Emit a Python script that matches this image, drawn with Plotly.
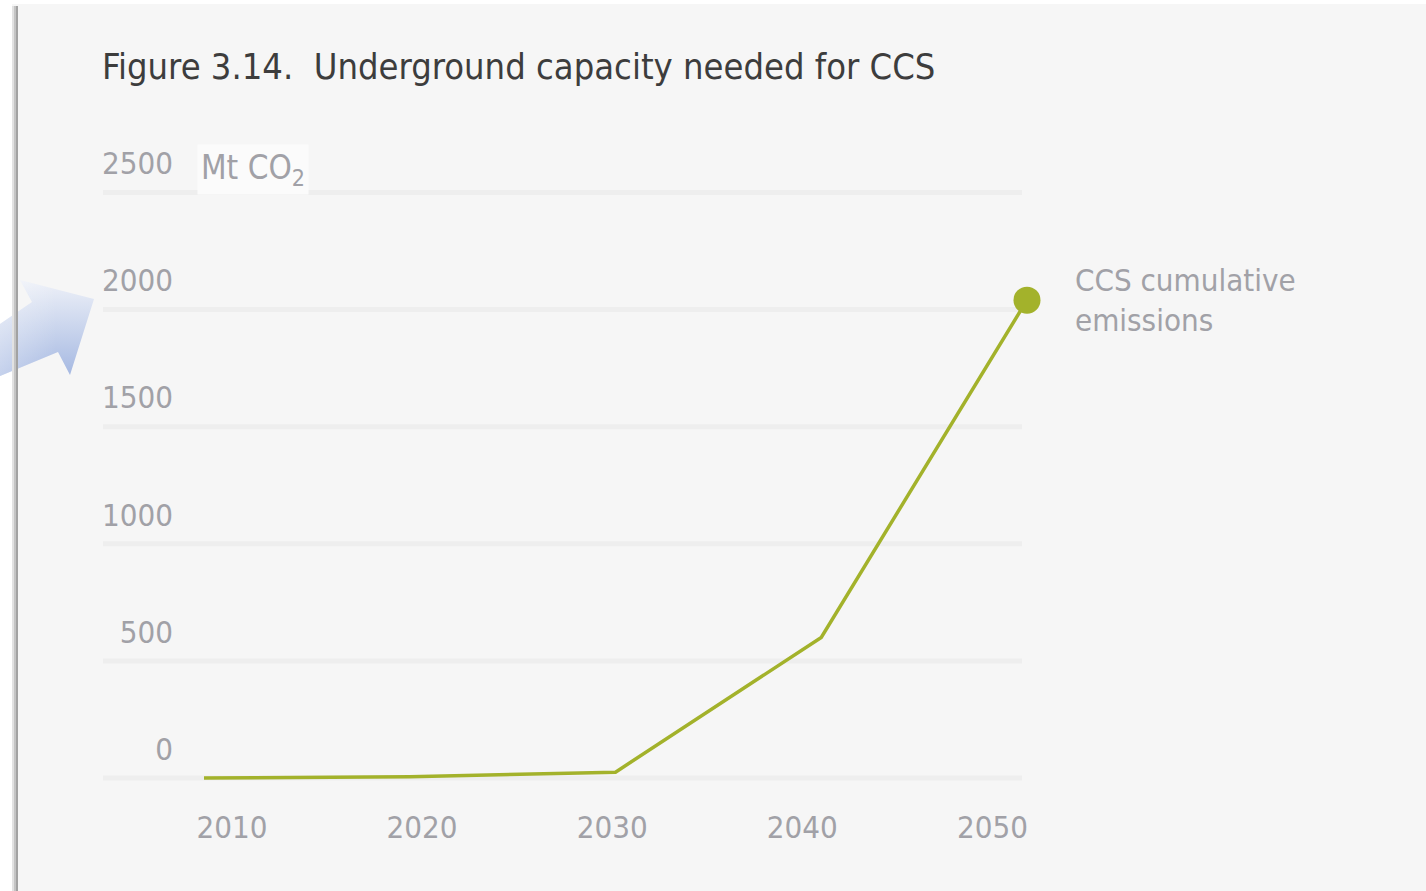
import plotly.graph_objects as go

# ---------------- data ----------------
years = [2010, 2020, 2030, 2040, 2050]
ccs_cumulative = [0, 5, 25, 600, 2040]          # Mt CO2
y_ticks = [0, 500, 1000, 1500, 2000, 2500]
x_tick_labels = ["2010", "2020", "2030", "2040", "2050"]
series_name = "CCS cumulative<br>emissions"
title_text = "Figure 3.14.\u00a0 Underground capacity needed for CCS"
unit_text = "Mt CO<sub>2</sub>"

# ---------------- layout constants ----------------
W, H = 1426, 891
FONT = "DejaVu Sans Condensed, Liberation Sans Narrow, sans-serif"
BG = "#f6f6f6"
LINE_COLOR = "#a3b22b"
TICK_COLOR = "#a1a1a7"

# plot area in pixels
PL, PR, PT, PB = 178, 1045, 150, 800
# axis calibration (pixel positions of reference values)
X_PX_2010, X_PX_PER_YEAR = 204, 20.575
Y_PX_0, Y_PX_PER_UNIT = 778, 468.5 / 2000

x_range = [2010 + (PL - X_PX_2010) / X_PX_PER_YEAR, 2010 + (PR - X_PX_2010) / X_PX_PER_YEAR]
y_range = [-(PB - Y_PX_0) / Y_PX_PER_UNIT, (Y_PX_0 - PT) / Y_PX_PER_UNIT]

# year labels in the original are spaced a bit tighter than the data scale
LABEL_START, LABEL_STEP = 2011.36, 9.24
x_tickvals = [LABEL_START + i * LABEL_STEP for i in range(len(x_tick_labels))]


def px(x):
    return x / W


def py(y):
    return 1 - y / H


fig = go.Figure()

# decorative arrow (second, hidden subplot in pixel units)
arrow_x = [0, 32, 20, 94, 70, 58, 0, 0]
arrow_y = [H - v for v in [324, 302, 280, 299, 375, 352, 376, 324]]
fig.add_trace(go.Scatter(
    x=arrow_x, y=arrow_y, xaxis="x2", yaxis="y2", mode="lines",
    line=dict(width=0), fill="toself", hoverinfo="skip",
    fillgradient=dict(type="vertical", start=H - 280, stop=H - 375,
                      colorscale=[[0, "#eef1f8"], [1, "#a6b9e2"]]),
))
fig.add_trace(go.Scatter(
    x=arrow_x, y=arrow_y, xaxis="x2", yaxis="y2", mode="lines",
    line=dict(width=0), fill="toself", hoverinfo="skip",
    fillgradient=dict(type="horizontal", start=0, stop=94,
                      colorscale=[[0, "rgba(255,255,255,0.35)"], [0.6, "rgba(255,255,255,0)"],
                                  [1, "rgba(255,255,255,0)"]]),
))

# main series
fig.add_trace(go.Scatter(
    x=years, y=ccs_cumulative, mode="lines",
    line=dict(color=LINE_COLOR, width=3.5), cliponaxis=False, hoverinfo="skip",
))
fig.add_trace(go.Scatter(
    x=years[-1:], y=ccs_cumulative[-1:], mode="markers",
    marker=dict(color=LINE_COLOR, size=27), cliponaxis=False, hoverinfo="skip",
))

shapes = []
# gridlines
for v in y_ticks:
    shapes.append(dict(type="line", xref="paper", yref="y", x0=px(103), x1=px(1022),
                       y0=v, y1=v, line=dict(color="#eeeeee", width=5), layer="below"))
# white frame strips
shapes.append(dict(type="rect", xref="paper", yref="paper", x0=0, x1=px(12), y0=0, y1=1,
                   fillcolor="white", line=dict(width=0), layer="below"))
shapes.append(dict(type="rect", xref="paper", yref="paper", x0=0, x1=1, y0=py(4), y1=1,
                   fillcolor="white", line=dict(width=0), layer="below"))
# left shadow
for x0, x1, c in [(12, 14, "#e2e2e2"), (14, 16, "#c4c4c4"), (16, 18, "#a2a2a2")]:
    shapes.append(dict(type="rect", xref="paper", yref="paper", x0=px(x0), x1=px(x1),
                       y0=0, y1=py(6), fillcolor=c, line=dict(width=0), layer="above"))

annotations = [
    dict(text=title_text, xref="paper", yref="paper", x=px(100), y=py(44),
         xanchor="left", yanchor="top", showarrow=False,
         font=dict(family=FONT, size=36, color="#3d3d3d")),
    dict(text=unit_text, xref="paper", yref="paper", x=px(197), y=py(144),
         xanchor="left", yanchor="top", showarrow=False, bgcolor="#fbfbfb", borderpad=3,
         font=dict(family=FONT, size=33, color=TICK_COLOR)),
    dict(text=series_name, xref="paper", yref="paper", x=px(1073), y=py(260),
         xanchor="left", yanchor="top", align="left", showarrow=False,
         font=dict(family=FONT, size=31, color=TICK_COLOR)),
]

fig.update_layout(
    width=W, height=H, autosize=False,
    margin=dict(l=0, r=0, t=0, b=0, autoexpand=False),
    paper_bgcolor=BG, plot_bgcolor="rgba(0,0,0,0)",
    showlegend=False, hovermode=False,
    xaxis=dict(domain=[px(PL), px(PR)], range=x_range, tickvals=x_tickvals,
               ticktext=x_tick_labels, showgrid=False, zeroline=False, showline=False,
               ticks="", tickfont=dict(family=FONT, size=31, color=TICK_COLOR),
               ticklabelstandoff=6, automargin=False),
    yaxis=dict(domain=[py(PB), py(PT)], range=y_range, tickvals=y_ticks,
               showgrid=False, zeroline=False, showline=False, ticks="",
               tickfont=dict(family=FONT, size=31, color=TICK_COLOR),
               ticklabelshift=-29, ticklabelstandoff=4, automargin=False),
    xaxis2=dict(domain=[0, px(100)], range=[0, 100], visible=False, anchor="y2"),
    yaxis2=dict(domain=[py(380), py(275)], range=[H - 380, H - 275], visible=False, anchor="x2"),
    shapes=shapes, annotations=annotations,
)

fig.write_html("out.html", config={"displayModeBar": False, "responsive": False})
